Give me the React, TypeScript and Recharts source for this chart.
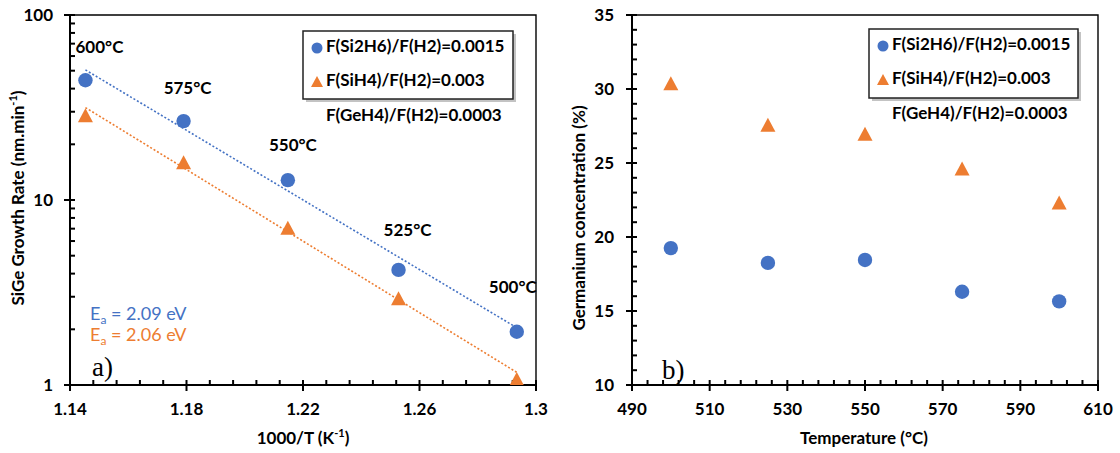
import { ScatterChart, Scatter, XAxis, YAxis, ReferenceArea, ReferenceDot, LabelList } from "recharts";

const BLUE = "#4472C4";
const ORANGE = "#ED7D31";
const FONT = "Lato, 'Open Sans', sans-serif";

// panel a) growth rate vs 1000/T
const invTemp = [1.1453, 1.179, 1.2148, 1.2528, 1.2934];
const tempLabels = ["600°C", "575°C", "550°C", "525°C", "500°C"];
const rateSi2H6 = [44.4, 26.7, 12.8, 4.19, 1.94];
const rateSiH4 = [28.5, 15.9, 7.03, 2.93, 1.07];
const fitX = [1.1453, 1.2934];
const fitSi2H6 = [50.5, 2.04];
const fitSiH4 = [31.6, 1.17];
const xTicksA = [1.14, 1.18, 1.22, 1.26, 1.3];
const yTicksA = [1, 10, 100];
const yMinorA = [2, 3, 4, 5, 6, 7, 8, 9, 10, 20, 30, 40, 50, 60, 70, 80, 90];

// panel b) Ge concentration vs temperature
const temps = [500, 525, 550, 575, 600];
const geSi2H6 = [19.25, 18.25, 18.45, 16.3, 15.65];
const geSiH4 = [30.35, 27.55, 26.95, 24.6, 22.3];
const xTicksB = [490, 510, 530, 550, 570, 590, 610];
const yTicksB = [10, 15, 20, 25, 30, 35];

const legendNames = ["F(Si2H6)/F(H2)=0.0015", "F(SiH4)/F(H2)=0.003"];
const gasNote = "F(GeH4)/F(H2)=0.0003";

// offsets of the temperature labels from the blue points
const tempLabelOffset = [[14, -32], [4, -31], [5, -34], [9, -38], [-4, -43]];

const range = (a: number, b: number, step: number) => {
  const out: number[] = [];
  for (let v = a; v <= b + step / 10; v += step) out.push(Math.round(v * 1000) / 1000);
  return out;
};

const dataA1 = invTemp.map((x, i) => ({ x, y: rateSi2H6[i], label: tempLabels[i] }));
const dataA2 = invTemp.map((x, i) => ({ x, y: rateSiH4[i] }));
const fitA1 = fitX.map((x, i) => ({ x, y: fitSi2H6[i] }));
const fitA2 = fitX.map((x, i) => ({ x, y: fitSiH4[i] }));
const dataB1 = temps.map((x, i) => ({ x, y: geSi2H6[i] }));
const dataB2 = temps.map((x, i) => ({ x, y: geSiH4[i] }));

const Dot = (p: any) => <circle cx={p.cx} cy={p.cy} r={7.2} fill={BLUE} />;
const Tri = (p: any) => (
  <path d={`M${p.cx},${p.cy - 7.5} L${p.cx + 7.5},${p.cy + 6.5} L${p.cx - 7.5},${p.cy + 6.5} Z`} fill={ORANGE} />
);
const NoShape = () => <g />;

// inward tick marks drawn at the axis edge
const InTickX = (p: any) => (
  <path d={`M${p.cx},${p.cy} L${p.cx},${p.cy - 5}`} stroke="#000" strokeWidth={2} fill="none" />
);
const InTickY = (p: any) => (
  <path d={`M${p.cx},${p.cy} L${p.cx + 5},${p.cy}`} stroke="#000" strokeWidth={2} fill="none" />
);

const tickStyle = { fill: "#000", fontSize: 17, fontWeight: 700, fontFamily: FONT };
const lineStyle = { stroke: "#000", strokeWidth: 2 };

const TempLabel = (p: any) => {
  const [dx, dy] = tempLabelOffset[p.index];
  const cx = p.x + p.width / 2;
  const cy = p.y + p.height / 2;
  return (
    <text x={cx + dx} y={cy + dy} textAnchor="middle" dominantBaseline="middle"
      fontSize={17} fontWeight={700} fontFamily={FONT} fill="#000">
      {p.value}
    </text>
  );
};

function LegendBox({ x, y, w, h }: { x: number; y: number; w: number; h: number }) {
  return (
    <g fontSize={17} fontWeight={700} fontFamily={FONT} fill="#000">
      <rect x={x + 3} y={y + 3} width={w} height={h} fill="#888" opacity={0.5} />
      <rect x={x} y={y} width={w} height={h} fill="#fff" stroke="#222" strokeWidth={1.5} />
      <circle cx={x + 14} cy={y + 17} r={5.5} fill={BLUE} />
      <path d={`M${x + 14},${y + 45} L${x + 20},${y + 56} L${x + 8},${y + 56} Z`} fill={ORANGE} />
      <text x={x + 23} y={y + 17} dominantBaseline="middle">{legendNames[0]}</text>
      <text x={x + 23} y={y + 51} dominantBaseline="middle">{legendNames[1]}</text>
      <text x={x + 23} y={y + 86} dominantBaseline="middle">{gasNote}</text>
    </g>
  );
}

export default function App() {
  return (
    <div style={{ position: "absolute", left: 0, top: 0, width: 1120, height: 453, background: "#fff" }}>
      <div style={{ position: "absolute", left: 0, top: 0 }}>
        <ScatterChart width={560} height={453} margin={{ top: 15, right: 24, bottom: 38, left: 25 }}>
          <XAxis type="number" dataKey="x" domain={[1.14, 1.3]} ticks={xTicksA} interval={0} height={30}
            tick={tickStyle} tickLine={lineStyle} axisLine={lineStyle} tickSize={6} tickMargin={12}
            tickFormatter={(v) => String(v)} allowDataOverflow />
          <YAxis type="number" dataKey="y" scale="log" domain={[1, 100]} ticks={yTicksA} interval={0} width={45}
            tick={tickStyle} tickLine={lineStyle} axisLine={lineStyle} tickSize={6} tickMargin={11}
            allowDataOverflow />
          <ReferenceArea x1={1.14} x2={1.3} y1={1} y2={100} fill="none" stroke="#000" strokeWidth={1.4} />
          {range(1.14, 1.3, 0.008).map((v) => (
            <ReferenceDot key={`xa${v}`} x={v} y={1} r={1} shape={InTickX} ifOverflow="visible" />
          ))}
          {[...yTicksA, ...yMinorA].map((v) => (
            <ReferenceDot key={`ya${v}`} x={1.14} y={v} r={1} shape={InTickY} ifOverflow="visible" />
          ))}
          <Scatter data={fitA1} line={{ stroke: BLUE, strokeWidth: 1.6, strokeDasharray: "2 2" }} shape={NoShape} isAnimationActive={false} />
          <Scatter data={fitA2} line={{ stroke: ORANGE, strokeWidth: 1.6, strokeDasharray: "2 2" }} shape={NoShape} isAnimationActive={false} />
          <Scatter data={dataA1} shape={Dot} isAnimationActive={false}>
            <LabelList dataKey="label" content={TempLabel} />
          </Scatter>
          <Scatter data={dataA2} shape={Tri} isAnimationActive={false} />
        </ScatterChart>
      </div>
      <div style={{ position: "absolute", left: 560, top: 0 }}>
        <ScatterChart width={560} height={453} margin={{ top: 15, right: 22, bottom: 38, left: 27 }}>
          <XAxis type="number" dataKey="x" domain={[490, 610]} ticks={xTicksB} interval={0} height={30}
            tick={tickStyle} tickLine={lineStyle} axisLine={lineStyle} tickSize={6} tickMargin={12}
            allowDataOverflow />
          <YAxis type="number" dataKey="y" domain={[10, 35]} ticks={yTicksB} interval={0} width={45}
            tick={tickStyle} tickLine={lineStyle} axisLine={lineStyle} tickSize={6} tickMargin={12}
            allowDataOverflow />
          <ReferenceArea x1={490} x2={610} y1={10} y2={35} fill="none" stroke="#000" strokeWidth={1.4} />
          {range(490, 610, 4).map((v) => (
            <ReferenceDot key={`xb${v}`} x={v} y={10} r={1} shape={InTickX} ifOverflow="visible" />
          ))}
          {range(10, 35, 1).map((v) => (
            <ReferenceDot key={`yb${v}`} x={490} y={v} r={1} shape={InTickY} ifOverflow="visible" />
          ))}
          <Scatter data={dataB1} shape={Dot} isAnimationActive={false} />
          <Scatter data={dataB2} shape={Tri} isAnimationActive={false} />
        </ScatterChart>
      </div>
      <svg width={1120} height={453} style={{ position: "absolute", left: 0, top: 0, pointerEvents: "none" }}>
        <LegendBox x={303} y={31} w={210} h={68} />
        <LegendBox x={869} y={29} w={209} h={69} />
        <g fontFamily={FONT} fontSize={17} fontWeight={700} fill="#000" textAnchor="middle">
          <text transform="translate(20,198) rotate(-90)" dominantBaseline="middle">
            SiGe Growth Rate (nm.min<tspan dy={-6} fontSize={11}>-1</tspan><tspan dy={6}>)</tspan>
          </text>
          <text x={303} y={440} dominantBaseline="middle">
            1000/T (K<tspan dy={-6} fontSize={11}>-1</tspan><tspan dy={6}>)</tspan>
          </text>
          <text transform="translate(581,218) rotate(-90)" dominantBaseline="middle">Germanium concentration (%)</text>
          <text x={864} y={440} dominantBaseline="middle">Temperature (°C)</text>
        </g>
        <g fontFamily={FONT} fontSize={18}>
          <text x={90} y={320} fill={BLUE}>
            E<tspan dy={4} fontSize={12}>a</tspan><tspan dy={-4}> = 2.09 eV</tspan>
          </text>
          <text x={90} y={341} fill={ORANGE}>
            E<tspan dy={4} fontSize={12}>a</tspan><tspan dy={-4}> = 2.06 eV</tspan>
          </text>
        </g>
        <g fontFamily="'Liberation Serif', serif" fontSize={27} fill="#000">
          <text x={92} y={376}>a)</text>
          <text x={662} y={379}>b)</text>
        </g>
      </svg>
    </div>
  );
}
